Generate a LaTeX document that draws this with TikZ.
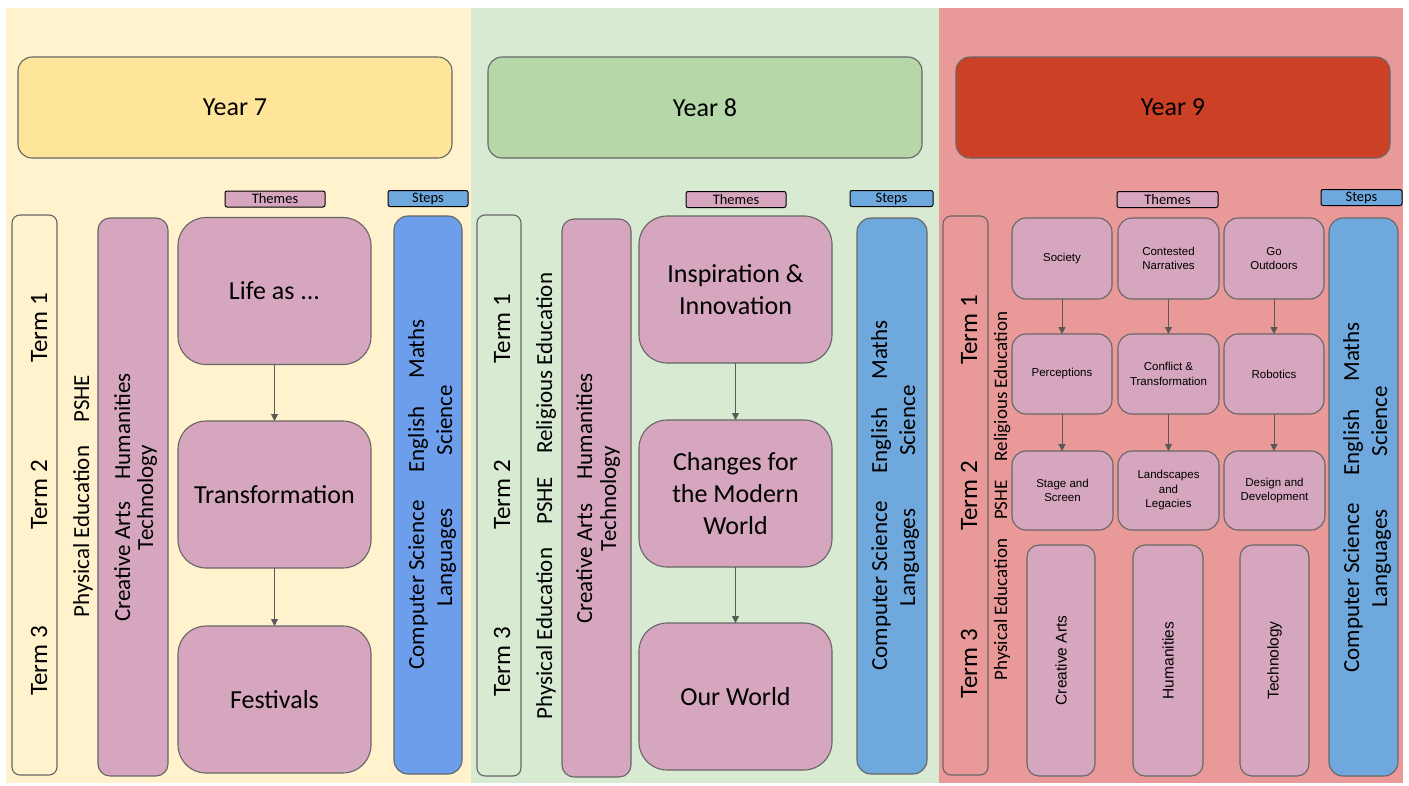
\documentclass[tikz,border=0pt]{standalone}
\usepackage{fontspec}
\setmainfont{Carlito}
\newfontfamily\arialf{Liberation Sans}
\usetikzlibrary{arrows.meta}

% panel and box colours
\definecolor{bgseven}{HTML}{FFF2CC}
\definecolor{bgeight}{HTML}{D9EAD3}
\definecolor{bgnine}{HTML}{EA9999}
\definecolor{hdrseven}{HTML}{FFE599}
\definecolor{hdreight}{HTML}{B6D7A8}
\definecolor{hdrnine}{HTML}{CC4125}
\definecolor{themepink}{HTML}{D5A6BD}
\definecolor{stepblue}{HTML}{6FA8DC}
\definecolor{stepbluedeep}{HTML}{6D9EEB}
\definecolor{edgegray}{HTML}{666666}
\definecolor{arrowgray}{HTML}{595959}

\newcommand{\yearfont}{\fontsize{26}{31}\selectfont}
\newcommand{\themefont}{\fontsize{26}{32}\selectfont}
\newcommand{\termfont}{\fontsize{25}{30}\selectfont}
\newcommand{\subjfont}{\fontsize{23}{28}\selectfont}
\newcommand{\subjsmallfont}{\fontsize{19}{23}\selectfont}
\newcommand{\tagfont}{\fontsize{14.5}{16}\selectfont}
\newcommand{\gridfont}{\arialf\fontsize{11.5}{14.5}\selectfont}
\newcommand{\lowfont}{\arialf\fontsize{15.5}{18}\selectfont}

\tikzset{
  box/.style={draw=edgegray, line width=1.1pt, inner sep=0pt, outer sep=0pt},
  hdr/.style={box, rounded corners=14pt, minimum width=434pt, minimum height=101pt, font=\yearfont},
  tag/.style={draw=black, line width=1pt, rounded corners=2pt, inner sep=0pt, outer sep=0pt,
              minimum height=16pt, font=\tagfont},
  termbox/.style={box, rounded corners=8pt, minimum width=45pt},
  subjbox/.style={box, fill=themepink, rounded corners=12pt},
  stepsbox/.style={box, rounded corners=14pt},
  themebox/.style={box, fill=themepink, rounded corners=28pt, minimum width=193pt,
                   minimum height=147pt, align=center, font=\themefont},
  gridbox/.style={box, fill=themepink, rounded corners=14pt, minimum width=100pt,
                  align=center, font=\gridfont},
  lowbox/.style={box, fill=themepink, rounded corners=12pt, rotate=90,
                 minimum width=231pt, font=\lowfont},
  vtext/.style={rotate=90, anchor=base, inner sep=0pt},
  flow/.style={draw=arrowgray, line width=0.9pt, -{Triangle[length=7pt,width=7pt]}}
}

\begin{document}
\begin{tikzpicture}[x=1pt,y=-1pt]
\fill[white] (0,0) rectangle (1409,785);
\useasboundingbox (0,0) rectangle (1409,785);

% year panels
\fill[bgseven] (6,8) rectangle (471,783);
\fill[bgeight] (471,8) rectangle (939,783);
\fill[bgnine] (939,8) rectangle (1403,783);

% year headers
\node[hdr, fill=hdrseven] (hdr7) at (235,107.5) {Year 7};
\node[hdr, fill=hdreight] (hdr8) at (705,107.5) {Year 8};
\node[hdr, fill=hdrnine] (hdr9) at (1173,107.5) {Year 9};

% ---------------- Year 7 ----------------
\node[tag, fill=themepink, minimum width=100pt] (th7) at (275,199) {Themes};
\node[tag, fill=stepblue, minimum width=80pt] (sl7) at (428,198.5) {Steps};

\node[termbox, fill=bgseven, minimum height=560pt] (term7) at (34.5,495) {};
\node[vtext, font=\termfont] (t7one) at (47,328) {Term 1};
\node[vtext, font=\termfont] (t7two) at (47,495) {Term 2};
\node[vtext, font=\termfont] (t7three) at (47,661) {Term 3};

\node[vtext, font=\subjfont] (core7) at (89,496) {Physical Education\hspace{23pt}PSHE};

\node[subjbox, minimum width=70pt, minimum height=558pt] (ca7) at (133,497) {};
\node[vtext, font=\subjfont] (ca7a) at (130,497.5) {Creative Arts\hspace{22pt}Humanities};
\node[vtext, font=\subjfont] (ca7b) at (153,497.5) {Technology};

\node[themebox] (life) at (274.5,291) {Life as ...};
\node[themebox] (trans) at (274.5,494.5) {Transformation};
\node[themebox] (fest) at (274.5,699.5) {Festivals};
\draw[flow] (life.south) -- (trans.north);
\draw[flow] (trans.south) -- (fest.north);

\node[stepsbox, fill=stepbluedeep, minimum width=68pt, minimum height=558pt] (st7) at (428,495) {};
\node[vtext, font=\subjfont] (st7a) at (424,494.5) {Computer Science\hspace{28pt}English\hspace{28pt}Maths};
\node[vtext, font=\subjfont] (st7b) at (452,495.5) {Languages\hspace{53pt}Science};

% ---------------- Year 8 ----------------
\node[tag, fill=themepink, minimum width=100pt] (th8) at (736,199.5) {Themes};
\node[tag, fill=stepblue, minimum width=83pt] (sl8) at (891.5,198.5) {Steps};

\node[termbox, fill=bgeight, minimum width=44pt, minimum height=561pt] (term8) at (499,495.5) {};
\node[vtext, font=\termfont] (t8one) at (510,328.5) {Term 1};
\node[vtext, font=\termfont] (t8two) at (510,495) {Term 2};
\node[vtext, font=\termfont] (t8three) at (510,662) {Term 3};

\node[vtext, font=\subjfont] (core8) at (552,496)
  {Physical Education\hspace{23pt}PSHE\hspace{23pt}Religious Education};

\node[subjbox, minimum width=69pt, minimum height=558pt] (ca8) at (596.5,498) {};
\node[vtext, font=\subjfont] (ca8a) at (592,498.5) {Creative Arts\hspace{24pt}Humanities};
\node[vtext, font=\subjfont] (ca8b) at (616,498.5) {Technology};

\node[themebox] (insp) at (735.5,289.5) {Inspiration \&\\Innovation};
\node[themebox] (chng) at (735.5,493.5) {Changes for\\the Modern\\World};
\node[themebox] (ourw) at (735.5,696.5) {Our World};
\draw[flow] (insp.south) -- (chng.north);
\draw[flow] (chng.south) -- (ourw.north);

\node[stepsbox, fill=stepblue, minimum width=70pt, minimum height=556pt] (st8) at (892,496) {};
\node[vtext, font=\subjfont] (st8a) at (887,495.5) {Computer Science\hspace{28pt}English\hspace{28pt}Maths};
\node[vtext, font=\subjfont] (st8b) at (915,496) {Languages\hspace{53pt}Science};

% ---------------- Year 9 ----------------
\node[tag, fill=themepink, minimum width=101pt] (th9) at (1167.5,199.5) {Themes};
\node[tag, fill=stepblue, minimum width=81pt] (sl9) at (1361.5,197.5) {Steps};

\node[termbox, fill=bgnine, minimum height=559pt] (term9) at (965.5,495.5) {};
\node[vtext, font=\termfont] (t9one) at (977,330) {Term 1};
\node[vtext, font=\termfont] (t9two) at (977,496) {Term 2};
\node[vtext, font=\termfont] (t9three) at (977,664) {Term 3};

\node[vtext, font=\subjsmallfont] (core9) at (1007,496)
  {Physical Education\hspace{19pt}PSHE\hspace{19pt}Religious Education};

% theme grid: three strands over three rows
\node[gridbox, minimum height=81pt] (soc) at (1062,258.5) {Society};
\node[gridbox, minimum height=81pt, minimum width=101pt] (cont) at (1168.5,258.5) {Contested\\Narratives};
\node[gridbox, minimum height=81pt] (outd) at (1274,258.5) {Go\\Outdoors};
\node[gridbox, minimum height=80pt] (perc) at (1062,374) {Perceptions};
\node[gridbox, minimum height=80pt, minimum width=101pt] (conf) at (1168.5,374) {Conflict \&\\Transformation};
\node[gridbox, minimum height=80pt] (robo) at (1274,374) {Robotics};
\node[gridbox, minimum height=79pt, minimum width=101pt] (stage) at (1062.5,490.5) {Stage and\\Screen};
\node[gridbox, minimum height=79pt, minimum width=101pt] (land) at (1168.5,490.5) {Landscapes\\and\\Legacies};
\node[gridbox, minimum height=79pt, minimum width=101pt] (desi) at (1274.5,490.5) {Design and\\Development};
\draw[flow] (soc.south) -- (perc.north);
\draw[flow] (perc.south) -- (stage.north -| perc.south);
\draw[flow] (cont.south) -- (conf.north);
\draw[flow] (conf.south) -- (land.north);
\draw[flow] (outd.south) -- (robo.north);
\draw[flow] (robo.south) -- (desi.north -| robo.south);

\node[lowbox, minimum height=68pt] (arts9) at (1061,660.5) {Creative Arts};
\node[lowbox, minimum height=70pt] (hum9) at (1168,660.5) {Humanities};
\node[lowbox, minimum height=69pt] (tech9) at (1274.5,660.5) {Technology};

\node[stepsbox, fill=stepblue, minimum width=69pt, minimum height=558pt] (st9) at (1363.5,497) {};
\node[vtext, font=\subjfont] (st9a) at (1359,497.5) {Computer Science\hspace{28pt}English\hspace{28pt}Maths};
\node[vtext, font=\subjfont] (st9b) at (1387,496.5) {Languages\hspace{53pt}Science};
\end{tikzpicture}
\end{document}
